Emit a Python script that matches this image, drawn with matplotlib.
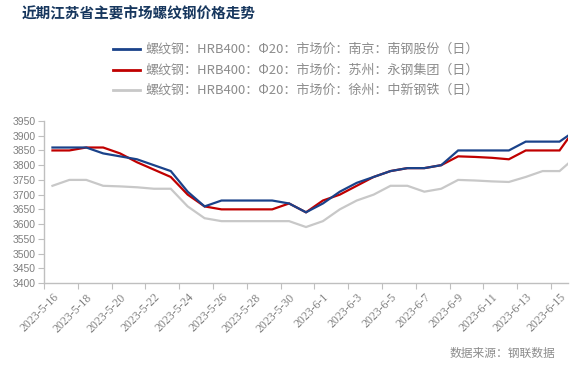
import matplotlib
matplotlib.use("Agg")
import matplotlib.pyplot as plt
from matplotlib.lines import Line2D

plt.rcParams['font.family'] = ['Noto Sans CJK SC', 'DejaVu Sans']

dates = ["2023-5-16", "2023-5-17", "2023-5-18", "2023-5-19", "2023-5-20", "2023-5-21",
         "2023-5-22", "2023-5-23", "2023-5-24", "2023-5-25", "2023-5-26", "2023-5-27",
         "2023-5-28", "2023-5-29", "2023-5-30", "2023-5-31", "2023-6-1", "2023-6-2",
         "2023-6-3", "2023-6-4", "2023-6-5", "2023-6-6", "2023-6-7", "2023-6-8",
         "2023-6-9", "2023-6-10", "2023-6-11", "2023-6-12", "2023-6-13", "2023-6-14",
         "2023-6-15", "2023-6-16"]

nanjing = [3860, 3860, 3860, 3840, 3830, 3820, 3800, 3780, 3710, 3660, 3680, 3680,
           3680, 3680, 3670, 3640, 3670, 3710, 3740, 3760, 3780, 3790, 3790, 3800,
           3850, 3850, 3850, 3850, 3880, 3880, 3880, 3920]
suzhou = [3850, 3850, 3860, 3860, 3840, 3810, 3785, 3760, 3700, 3660, 3650, 3650,
          3650, 3650, 3670, 3640, 3680, 3700, 3730, 3760, 3780, 3790, 3790, 3800,
          3830, 3828, 3825, 3820, 3850, 3850, 3850, 3930]
xuzhou = [3730, 3750, 3750, 3730, 3728, 3725, 3720, 3720, 3660, 3620, 3610, 3610,
          3610, 3610, 3610, 3590, 3610, 3650, 3680, 3700, 3730, 3730, 3710, 3720,
          3750, 3748, 3745, 3743, 3760, 3780, 3780, 3830]

labels = ["螺纹钢：HRB400：Φ20：市场价：南京：南钢股份（日）",
          "螺纹钢：HRB400：Φ20：市场价：苏州：永钢集团（日）",
          "螺纹钢：HRB400：Φ20：市场价：徐州：中新钢铁（日）"]
colors = ["#1a428a", "#c00000", "#c8c8c8"]
series = [nanjing, suzhou, xuzhou]

yticks = [3400, 3450, 3500, 3550, 3600, 3650, 3700, 3750, 3800, 3850, 3900, 3950]

W, H = 582, 375
fig = plt.figure(figsize=(W/100, H/100), dpi=100)
ax = fig.add_axes([44/W, 1-283/H, (568-44)/W, (283-121)/H])

x = list(range(len(dates)))
for vals, c in zip(series[::-1], colors[::-1]):
    ax.plot(x, vals, color=c, lw=1.6, solid_joinstyle='miter', clip_on=True)

ax.set_xlim(-0.5, 30.5)
ax.set_ylim(3400, 3950)
ax.set_yticks(yticks)
ax.set_yticklabels([str(v) for v in yticks], family='Liberation Sans', fontsize=7.5, color='#7f7f7f')

n = 31
ax.set_xticks([i - 0.5 for i in range(0, n, 2)])
ax.set_xticklabels([])
ax.set_xticks(list(range(0, n, 2)), minor=True)
ax.set_xticklabels([dates[i] for i in range(0, n, 2)], minor=True, rotation=45,
                   ha='right', va='top', rotation_mode='anchor',
                   family='Liberation Serif', fontsize=8.5, color='#7f7f7f')
ax.tick_params(axis='x', which='minor', length=0, pad=6)
ax.tick_params(axis='x', which='major', length=4, color='#bfbfbf', direction='out')
ax.tick_params(axis='y', length=4, color='#bfbfbf', direction='out', pad=2)

for s in ['top', 'right']:
    ax.spines[s].set_visible(False)
for s in ['left', 'bottom']:
    ax.spines[s].set_color('#bfbfbf')
    ax.spines[s].set_linewidth(1.0)

fig.text(22/W, 1-13/H, "近期江苏省主要市场螺纹钢价格走势", fontsize=10.5, fontweight='bold',
         color='#17375e', ha='left', va='center')

rows_y = [49, 70, 90]
for lab, c, yy in zip(labels, colors, rows_y):
    fig.add_artist(Line2D([113/W, 140/W], [1-yy/H, 1-yy/H], color=c, lw=2,
                          transform=fig.transFigure))
    fig.text(145/W, 1-yy/H, lab, fontsize=9.4, color='#8c8c8c', ha='left', va='center')

fig.text(555/W, 1-353/H, "数据来源：钢联数据", fontsize=8.5, color='#8c8c8c',
         ha='right', va='center')

fig.savefig("out.png", dpi=100)
